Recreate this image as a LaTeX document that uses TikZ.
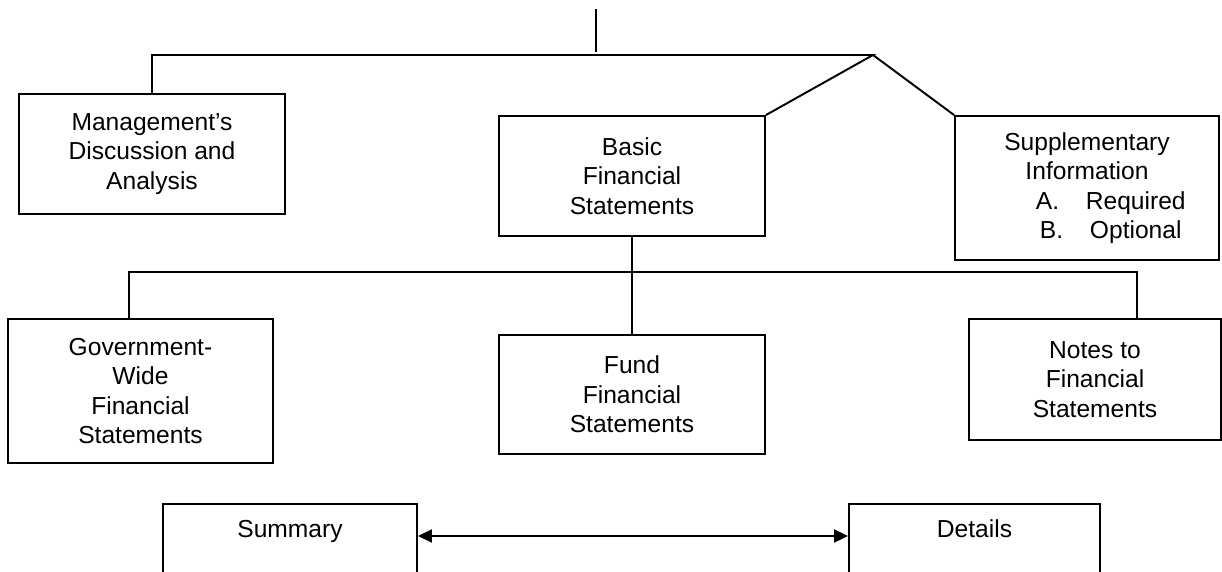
\documentclass[tikz,border=0pt]{standalone}
\usepackage{fontspec}
\setmainfont{Liberation Sans}
\usetikzlibrary{arrows.meta,positioning,calc}

\begin{document}
\begin{tikzpicture}[
  x=0.02cm, y=-0.02cm,
  line width=1.1pt,
  every node/.style={draw, line width=1.1pt, inner sep=0pt, align=center, font=\fontsize{14}{16.8}\selectfont},
  arr/.style={{Triangle[length=2.8mm,width=2.6mm]}-{Triangle[length=2.8mm,width=2.6mm]}, line width=1.1pt},
]
  \useasboundingbox (0,0) rectangle (1222,571);
  \clip (0,0) rectangle (1222,571);

  % Top level
  \node[minimum width=5.32cm, minimum height=2.4cm] (mda) at (152,154) {Management's\\Discussion and\\Analysis};
  \node[minimum width=5.32cm, minimum height=2.4cm] (bfs) at (632,176) {Basic\\Financial\\Statements};
  \node[minimum width=5.28cm, minimum height=2.88cm] (supp) at (1087,188)
    {Supplementary\\Information\\\hspace*{0.95cm}\makebox[1cm][l]{A.}Required\\\hspace*{0.95cm}\makebox[1cm][l]{B.}Optional};

  % Basic statements
  \node[minimum width=5.3cm, minimum height=2.88cm] (gwfs) at (140.5,391) {Government-\\Wide\\Financial\\Statements};
  \node[minimum width=5.32cm, minimum height=2.38cm] (ffs) at (632,394.5) {Fund\\Financial\\Statements};
  \node[minimum width=5.04cm, minimum height=2.42cm] (notes) at (1095,379.5) {Notes to\\Financial\\Statements};

  % Summary / details
  \node[anchor=north, minimum width=5.08cm, text height=0.68cm, text depth=1.6cm] (summ) at (290,503) {Summary};
  \node[anchor=north, minimum width=5.02cm, text height=0.68cm, text depth=1.6cm] (det) at (974.5,503) {Details};

  % Connectors
  \coordinate (root) at (596,9);
  \coordinate (rootend) at (596,52);
  \coordinate (split) at (873,55);
  \coordinate (busL) at (129,272);
  \coordinate (busR) at (1137,272);

  \draw (root) -- (rootend);
  \draw (mda.north) |- (split) -- (bfs.north east);
  \draw (split) -- (supp.north west);
  \draw (bfs.south) -- (ffs.north);
  \draw (gwfs.north -| busL) -- (busL) -- (busR) -- (notes.north -| busR);
  \draw[arr] ([yshift=-0.66cm]summ.north east) -- ([yshift=-0.66cm]det.north west);
\end{tikzpicture}
\end{document}
